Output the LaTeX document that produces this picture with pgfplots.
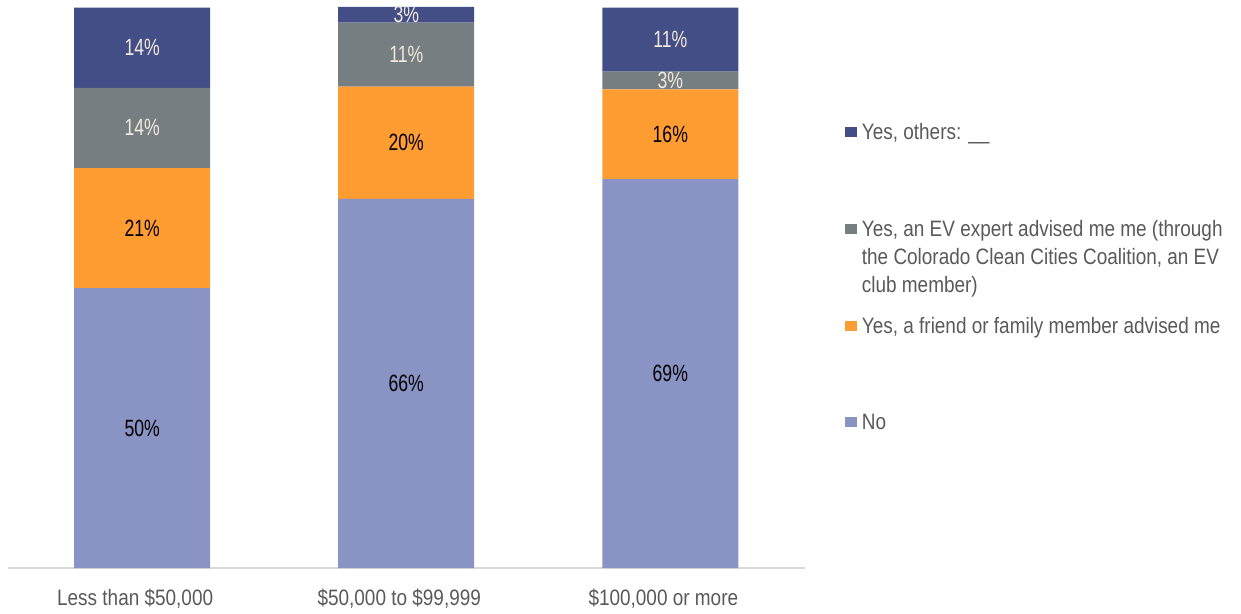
\documentclass[border=0pt]{standalone}
\usepackage{fontspec}
\setmainfont{Liberation Sans}[FakeStretch=0.85]
\newfontfamily\lblfont{Liberation Sans}[FakeStretch=0.75]
\usepackage{pgfplots}
\usepackage{pgfplotstable}
\pgfplotsset{compat=1.18}
\definecolor{cNo}{HTML}{8A94C4}
\definecolor{cFriend}{HTML}{FF9D33}
\definecolor{cExpert}{HTML}{767E82}
\definecolor{cOthers}{HTML}{434E87}
\definecolor{txtgray}{HTML}{595959}
\definecolor{cream}{HTML}{F2E9DD}
\definecolor{axisgray}{HTML}{D9D9D9}
\pgfplotstableread{
x no friend expert others
0 49.9 21.4 14.3 14.3
1 65.8 20.0 11.4 2.8
2 69.3 16.0 3.2 11.4
}\datatable
\pgfplotsset{seglabel/.style 2 args={
  nodes near coords={\pgfmathprintnumber[fixed,precision=0]{\pgfplotspointmeta}\%},
  point meta=\thisrow{#1},
  every node near coord/.append style={anchor=center, text=#2, font=\lblfont\fontsize{23.5}{26}\selectfont, inner sep=0pt},
}}
\newcommand{\legtext}[1]{\parbox[t][97pt][t]{380pt}{\fontsize{22.3}{28}\selectfont\raggedright #1}}
\begin{document}
\begin{tikzpicture}
\begin{axis}[name=ax, scale only axis, width=797pt, height=561pt,
  ybar stacked, bar width=136pt, ymin=0, ymax=100, xmin=-0.508, xmax=2.51,
  axis y line=none, axis x line*=bottom,
  x axis line style={draw=axisgray, line width=1.5pt, -},
  xtick={0,1,2},
  xticklabels={{Less than \$50,000}, {\$50,000 to \$99,999}, {\$100,000 or more}},
  xtick style={draw=none}, major tick length=0pt,
  xticklabel style={anchor=base, yshift=-37pt, xshift=-7pt, text=txtgray, font=\fontsize{22.3}{25}\selectfont},
  /pgf/number format/assume math mode=true,
  reverse legend,
  legend style={draw=none, fill=none, inner sep=0pt, row sep=0pt, column sep=5pt,
    at={(1.0502,0.7933)}, anchor=north west, text=txtgray, cells={anchor=base west},
    nodes={inner sep=0pt, text depth=}},
  legend image code/.code={\fill[#1,draw=none] (0pt,2pt) rectangle (11.7pt,12.7pt);},
]
\addplot[fill=cNo, draw=none, seglabel={no}{black}] table[x=x,y=no]{\datatable};
\addlegendentry{\legtext{No}}
\addplot[fill=cFriend, draw=none, seglabel={friend}{black}] table[x=x,y=friend]{\datatable};
\addlegendentry{\legtext{Yes, a friend or family member advised me}}
\addplot[fill=cExpert, draw=none, seglabel={expert}{cream}] table[x=x,y=expert]{\datatable};
\addlegendentry{\legtext{Yes, an EV expert advised me me (through\\the Colorado Clean Cities Coalition, an EV\\club member)}}
\addplot[fill=cOthers, draw=none, seglabel={others}{cream}] table[x=x,y=others]{\datatable};
\addlegendentry{\legtext{Yes, others: \_\_}}
\end{axis}
\pgfresetboundingbox
\path[use as bounding box] ([xshift=-8pt,yshift=-45pt]ax.south west) rectangle ([xshift=436pt,yshift=7pt]ax.north east);
\end{tikzpicture}
\end{document}
